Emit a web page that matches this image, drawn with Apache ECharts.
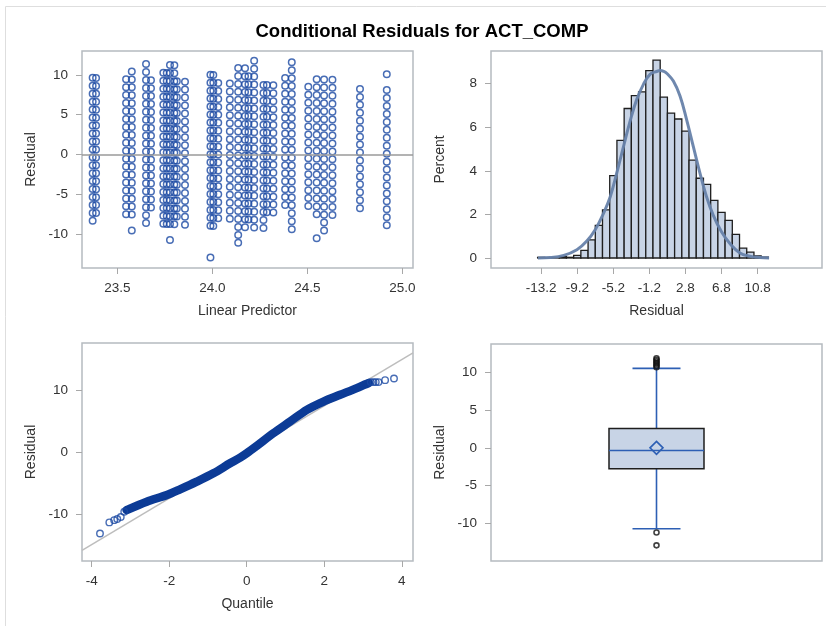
<!DOCTYPE html>
<html><head><meta charset="utf-8">
<script src="https://cdn.jsdelivr.net/npm/echarts@6/dist/echarts.min.js"></script>
<style>html,body{margin:0;padding:0;background:#fff}#c{width:826px;height:626px}</style>
</head><body><div id="c"></div>
<script>
// ===== Data =====
// Top-left: conditional residual vs linear predictor. Each column = one linear predictor value,
// observed (integer) ACT_COMP scores from scoreLow..scoreHigh; residual = score - predictor.
const lpValues  = [23.370,23.388,23.546,23.576,23.651,23.677,23.742,23.760,23.777,23.800,23.813,23.856,23.990,24.005,24.031,24.092,24.136,24.172,24.190,24.220,24.269,24.287,24.321,24.383,24.418,24.505,24.549,24.588,24.632,24.777,24.918];
const scoreLow  = [15,16,16,16,15,17,15,15,15,15,16,15,15,15,16,16,13,15,16,15,15,17,17,18,15,18,17,15,17,18,16];
const scoreHigh = [33,33,33,34,35,33,34,34,35,35,33,33,34,34,33,33,35,35,34,36,33,33,33,34,36,33,34,34,34,33,33];
const extraLP    = [23.576,23.777,23.990,24.549,24.918];
const extraScore = [14,13,11,14,35];
const lpTicks  = [23.5,24.0,24.5,25.0];
const resTicks = [-10,-5,0,5,10];

// Top-right: histogram of residuals (percent), bins of width 0.8
const binWidth = 0.8;
const binCenters = [-13.2,-12.4,-11.6,-10.8,-10.0,-9.2,-8.4,-7.6,-6.8,-6.0,-5.2,-4.4,-3.6,-2.8,-2.0,-1.2,-0.4,0.4,1.2,2.0,2.8,3.6,4.4,5.2,6.0,6.8,7.6,8.4,9.2,10.0,10.8,11.6];
const binPercent = [0.03,0,0.03,0.06,0.03,0.12,0.35,0.83,1.5,2.21,3.78,5.4,6.86,7.45,7.62,8.6,9.08,7.38,6.65,6.38,5.82,4.49,3.66,3.38,2.64,2.09,1.73,1.08,0.45,0.27,0.1,0.04];
const densityX = [-13.56,-12.2,-10.7,-9.24,-8.14,-7.21,-6.29,-5.55,-4.82,-4.08,-3.34,-2.6,-1.86,-1.13,-0.39,0.0,0.4,0.72,1.46,2.2,2.93,3.67,4.41,5.15,5.88,6.8,7.73,8.84,9.94,11.05,12.08];
const densityY = [0,0.02,0.12,0.38,0.78,1.3,2.05,2.8,3.9,5.1,6.28,7.28,7.97,8.43,8.56,8.6,8.56,8.48,8.12,7.43,6.35,5.12,3.9,2.8,1.97,1.2,0.66,0.23,0.08,0.02,0];
const histXTicks = [-13.2,-9.2,-5.2,-1.2,2.8,6.8,10.8];
const histYTicks = [0,2,4,6,8];

// Bottom-left: Q-Q plot
const qqLowX  = [-3.786,-3.545,-3.42,-3.34,-3.25,-3.16];
const qqLowY  = [-13.05,-11.27,-10.9,-10.73,-10.4,-9.54];
const qqBodyX = [-3.10,-2.58,-2.06,-1.72,-1.29,-0.86,-0.43,-0.17,0.0,0.26,0.69,1.12,1.55,1.98,2.41,2.84,3.05,3.15];
const qqBodyY = [-9.28,-7.92,-6.85,-5.93,-4.69,-3.34,-1.72,-0.8,-0.1,1.1,3.14,5.02,6.91,8.25,9.34,10.42,11.0,11.25];
const qqHighX = [3.2,3.27,3.33,3.4,3.57,3.8];
const qqHighY = [11.39,11.39,11.39,11.39,11.7,11.98];
const qqRefX  = [-4.25,4.29];
const qqRefY  = [-15.8,16.1];
const qqXTicks = [-4,-2,0,2,4];
const qqYTicks = [-10,0,10];

// Bottom-right: box plot [whiskerLow, Q1, median, Q3, whiskerHigh, mean]
const boxStats = [-10.7,-2.78,-0.35,2.57,10.5,0.0];
const boxOutliers = [10.65,10.85,11.05,11.25,11.45,11.65,11.85,-11.2,-12.9];

// ===== Build =====
const scatterData = [];
lpValues.forEach((lp,i)=>{ for(let s=scoreLow[i]; s<=scoreHigh[i]; s++) scatterData.push([lp, +(s-lp).toFixed(3)]); });
extraLP.forEach((lp,i)=>scatterData.push([lp, +(extraScore[i]-lp).toFixed(3)]));

const FONT = 'Liberation Sans';
const labelStyle = {color:'#333', fontSize:13.5, fontFamily:FONT};
const nameStyle = {color:'#333', fontSize:14, fontFamily:FONT};
function axis(gi, min, max, ticks, fmt, name, nameGap, margin, show){
  return {type:'value', gridIndex:gi, min:min, max:max, scale:true,
    axisLine:{show:false, onZero:false}, splitLine:{show:false},
    axisTick:{show:show, length:6, inside:false, lineStyle:{color:'#a8a8a8', width:1}, customValues:ticks},
    axisLabel:{show:show, customValues:ticks, formatter:fmt, margin:margin, ...labelStyle},
    name:name, nameLocation:'middle', nameGap:nameGap, nameTextStyle:nameStyle};
}
const gridStyle = {show:true, borderColor:'#b5bbc0', borderWidth:1.5, backgroundColor:'#fff', containLabel:false};
const BLUE = '#1a48a2';

const option = {
  animation:false,
  backgroundColor:'#fff',
  title:{text:'Conditional Residuals for ACT_COMP', left:422, top:22, textAlign:'center', padding:0,
    textStyle:{fontSize:18.5, fontWeight:'bold', color:'#000', fontFamily:FONT}},
  graphic:[{type:'rect', silent:true, z:-10, shape:{x:5.5,y:6.5,width:900,height:700}, style:{fill:'none', stroke:'#dedede', lineWidth:1}}],
  grid:[
    {left:82, top:51, width:331, height:217, ...gridStyle},
    {left:491, top:51, width:331, height:217, ...gridStyle},
    {left:82, top:343, width:331, height:218, ...gridStyle},
    {left:491, top:344, width:331, height:217, ...gridStyle}
  ],
  xAxis:[
    axis(0, 23.314, 25.056, lpTicks, v=>v.toFixed(1), 'Linear Predictor', 36, 13, true),
    axis(1, -18.77, 17.95, histXTicks, v=>v.toFixed(1), 'Residual', 36, 13, true),
    axis(2, -4.25, 4.29, qqXTicks, v=>String(v), 'Quantile', 36, 13, true),
    axis(3, 0, 1, [], v=>'', '', 0, 0, false)
  ],
  yAxis:[
    axis(0, -14.3, 13.0, resTicks, v=>String(v), 'Residual', 44, 14, true),
    axis(1, -0.46, 9.5, histYTicks, v=>String(v), 'Percent', 44, 14, true),
    axis(2, -17.5, 17.7, qqYTicks, v=>String(v), 'Residual', 44, 14, true),
    axis(3, -14.97, 13.73, resTicks, v=>String(v), 'Residual', 44, 14, true)
  ],
  series:[
    {type:'scatter', xAxisIndex:0, yAxisIndex:0, data:scatterData, symbol:'circle', symbolSize:6.5,
      itemStyle:{color:'rgba(0,0,0,0)', borderColor:BLUE, borderWidth:1.5},
      markLine:{silent:true, symbol:'none', label:{show:false}, lineStyle:{color:'#9a9a9a', width:1.5, type:'solid'}, data:[{yAxis:0}]}},
    {type:'custom', xAxisIndex:1, yAxisIndex:1, data:binCenters.map((c,i)=>[c, binPercent[i]]), encode:{x:0,y:1},
      renderItem:function(params, api){
        const c = api.value(0), v = api.value(1);
        const p0 = api.coord([c-binWidth/2, v]); const p1 = api.coord([c+binWidth/2, 0]);
        return {type:'rect', shape:{x:p0[0], y:p0[1], width:p1[0]-p0[0], height:p1[1]-p0[1]},
          style:{fill:'#c8d4e6', stroke:'#1e1e1e', lineWidth:1.3}};
      }},
    {type:'line', xAxisIndex:1, yAxisIndex:1, data:densityX.map((x,i)=>[x, densityY[i]]), smooth:0.4, showSymbol:false,
      lineStyle:{color:'#6782aa', width:3, opacity:0.95}, z:5},
    {type:'line', xAxisIndex:2, yAxisIndex:2, data:qqRefX.map((x,i)=>[x, qqRefY[i]]), showSymbol:false,
      lineStyle:{color:'#bdbdbd', width:1.5}, z:1},
    {type:'line', xAxisIndex:2, yAxisIndex:2, data:qqBodyX.map((x,i)=>[x, qqBodyY[i]]), smooth:0.3, showSymbol:false,
      lineStyle:{color:'#0c3b96', width:8.5, cap:'round', join:'round'}, z:3},
    {type:'scatter', xAxisIndex:2, yAxisIndex:2, data:qqLowX.map((x,i)=>[x, qqLowY[i]]).concat(qqHighX.map((x,i)=>[x, qqHighY[i]])),
      symbolSize:6.5, itemStyle:{color:'rgba(0,0,0,0)', borderColor:BLUE, borderWidth:1.4}, z:4},
    {type:'custom', xAxisIndex:3, yAxisIndex:3, data:[[0.5].concat(boxStats)], clip:false,
      renderItem:function(params, api){
        const xc = api.value(0);
        const P = k => api.coord([xc, api.value(k)]);
        const lo=P(1), q1=P(2), md=P(3), q3=P(4), hi=P(5), mn=P(6);
        const bw = api.size([0.287,0])[0]/2, cw = api.size([0.145,0])[0]/2;
        const blue = '#2d5fb4';
        const ln = (x1,y1,x2,y2,col)=>({type:'line', shape:{x1,y1,x2,y2}, style:{stroke:col, lineWidth:1.6}});
        return {type:'group', children:[
          ln(lo[0],lo[1],q1[0],q1[1],blue),
          ln(hi[0],hi[1],q3[0],q3[1],blue),
          ln(lo[0]-cw,lo[1],lo[0]+cw,lo[1],blue),
          ln(hi[0]-cw,hi[1],hi[0]+cw,hi[1],blue),
          {type:'rect', shape:{x:q3[0]-bw, y:q3[1], width:2*bw, height:q1[1]-q3[1]}, style:{fill:'#c8d4e6', stroke:'#1e1e1e', lineWidth:1.5}},
          ln(md[0]-bw,md[1],md[0]+bw,md[1],blue),
          {type:'polygon', shape:{points:[[mn[0],mn[1]-6.5],[mn[0]+6.5,mn[1]],[mn[0],mn[1]+6.5],[mn[0]-6.5,mn[1]]]}, style:{fill:'none', stroke:blue, lineWidth:1.6}}
        ]};
      }},
    {type:'scatter', xAxisIndex:3, yAxisIndex:3, data:boxOutliers.map(v=>[0.5, v]), symbolSize:5,
      itemStyle:{color:'rgba(0,0,0,0)', borderColor:'#111', borderWidth:1.6}, z:5}
  ]
};
const chart = echarts.init(document.getElementById('c'), null, {renderer:'canvas'});
chart.setOption(option);
</script></body></html>
